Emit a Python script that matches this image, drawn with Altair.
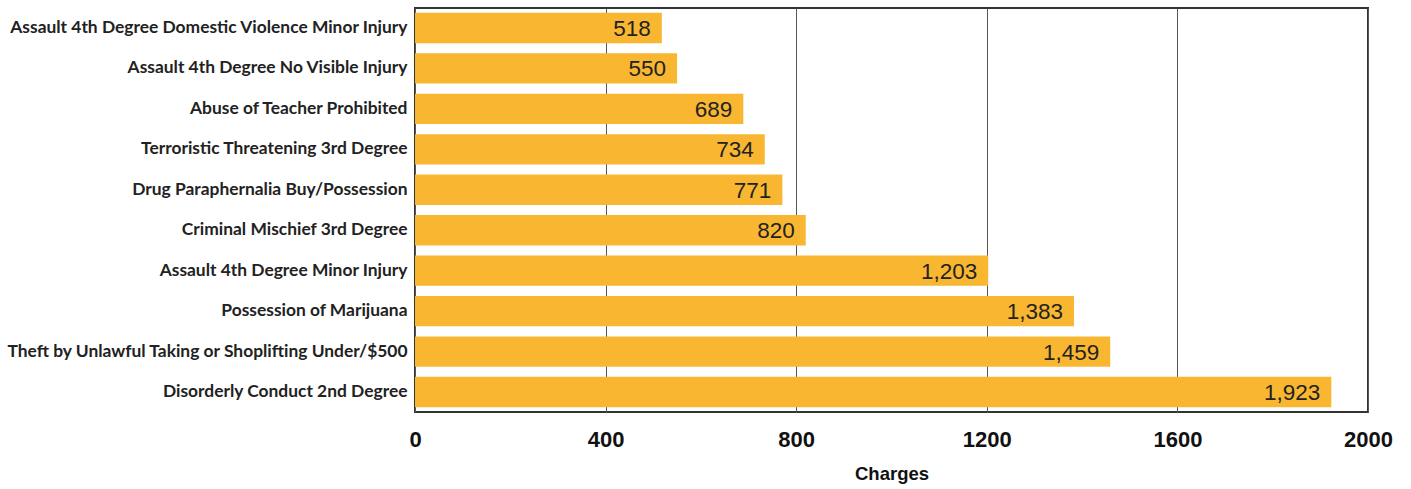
import altair as alt
import pandas as pd

# Top charge types by number of charges
offenses = [
    "Assault 4th Degree Domestic Violence Minor Injury",
    "Assault 4th Degree No Visible Injury",
    "Abuse of Teacher Prohibited",
    "Terroristic Threatening 3rd Degree",
    "Drug Paraphernalia Buy/Possession",
    "Criminal Mischief 3rd Degree",
    "Assault 4th Degree Minor Injury",
    "Possession of Marijuana",
    "Theft by Unlawful Taking or Shoplifting Under/$500",
    "Disorderly Conduct 2nd Degree",
]
charges = [518, 550, 689, 734, 771, 820, 1203, 1383, 1459, 1923]
x_ticks = [0, 400, 800, 1200, 1600, 2000]

df = pd.DataFrame({"offense": offenses, "charges": charges})

BAR = "#F9B631"

y_enc = alt.Y(
    "offense:N",
    sort=offenses,
    title=None,
    scale=alt.Scale(paddingInner=0.25, paddingOuter=0.12),
    axis=alt.Axis(
        labelFont="Lato",
        labelFontSize=17.4,
        labelFontWeight="bold",
        labelColor="#222222",
        labelPadding=8,
        ticks=False,
        domain=False,
        labelLimit=500,
    ),
)
x_enc = alt.X(
    "charges:Q",
    title="Charges",
    scale=alt.Scale(domain=[0, 2000], nice=False),
    axis=alt.Axis(
        values=x_ticks,
        format="d",
        labelFont="Liberation Sans",
        labelFontSize=22,
        labelFontWeight="bold",
        labelColor="#111111",
        labelPadding=17,
        labelFlush=False,
        ticks=False,
        domain=False,
        grid=True,
        gridColor="#555555",
        gridWidth=1,
        titleFont="Liberation Sans",
        titleFontSize=18.5,
        titleFontWeight="bold",
        titleColor="#111111",
        titlePadding=14,
    ),
)

bars = alt.Chart(df).mark_bar(color=BAR).encode(x=x_enc, y=y_enc)

labels = alt.Chart(df).mark_text(
    align="right",
    baseline="middle",
    dx=-11,
    dy=1,
    font="Liberation Sans",
    fontSize=22.5,
    color="#222222",
).encode(
    x="charges:Q",
    y=alt.Y("offense:N", sort=offenses),
    text=alt.Text("charges:Q", format=","),
)

chart = (
    alt.layer(bars, labels)
    .properties(
        width=953,
        height=404,
        background="white",
        autosize=alt.AutoSizeParams(type="none"),
        padding={"left": 415, "top": 8, "right": 43, "bottom": 77},
    )
    .configure_view(stroke="#333333", strokeWidth=2)
)

chart.save("out.html", embed_options={"renderer": "svg", "actions": False})
